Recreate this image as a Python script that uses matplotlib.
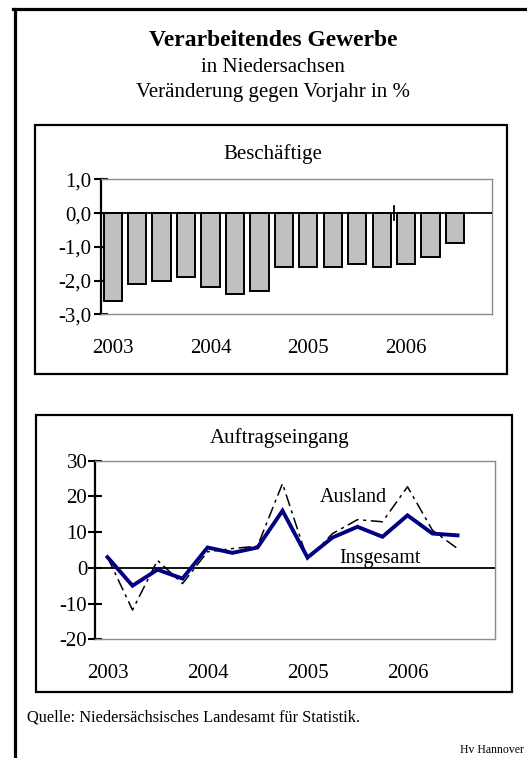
import matplotlib
matplotlib.use("Agg")
import matplotlib.pyplot as plt
from matplotlib.patches import Rectangle
from matplotlib.lines import Line2D

plt.rcParams['font.family'] = ['Liberation Serif', 'DejaVu Serif']
plt.rcParams['axes.unicode_minus'] = False

# data: quarters 2003 Q1 .. 2006 Q4 (last quarter still empty)
years = ['2003', '2004', '2005', '2006']
n_quarters = 16
beschaeftigte = [-2.6, -2.1, -2.0, -1.9, -2.2, -2.4, -2.3, -1.6,
                 -1.6, -1.6, -1.5, -1.6, -1.5, -1.3, -0.9]
insgesamt = [3.0, -5.0, -0.5, -3.0, 5.7, 4.2, 5.7, 16.0,
             2.9, 8.5, 11.5, 8.7, 14.7, 9.6, 9.1]
ausland = [3.0, -11.8, 2.1, -4.4, 4.5, 5.4, 6.1, 23.6,
           2.3, 9.6, 13.5, 12.9, 22.7, 10.5, 5.4]

W, H = 527, 758
fig = plt.figure(figsize=(W / 100, H / 100), dpi=100)


def fx(px):
    return px / W


def fy(py):
    return 1 - py / H


def axes_px(x0, y0, x1, y1):
    return fig.add_axes([fx(x0), fy(y1), fx(x1) - fx(x0), fy(y0) - fy(y1)])


def box_px(x0, y0, x1, y1, lw=1.6):
    fig.add_artist(Rectangle((fx(x0), fy(y1)), fx(x1) - fx(x0), fy(y0) - fy(y1),
                             transform=fig.transFigure, fill=False,
                             edgecolor='black', linewidth=lw))


def style_axes(ax):
    for side in ['top', 'right', 'bottom']:
        ax.spines[side].set_color('#8c8c8c')
        ax.spines[side].set_linewidth(1.0)
    ax.spines['left'].set_color('black')
    ax.spines['left'].set_linewidth(1.6)
    ax.tick_params(axis='y', direction='inout', length=10, width=1.5,
                   labelsize=15, pad=1.5)
    ax.tick_params(axis='x', length=0, labelsize=15, pad=18)
    ax.set_xlim(-0.5, n_quarters - 0.5)
    ax.set_xticks(range(0, n_quarters, 4))
    ax.set_xticklabels(years)
    ax.axhline(0, color='black', linewidth=1.3, zorder=3)


# outer frame (left and top only)
fig.add_artist(Line2D([fx(14.5), fx(14.5)], [fy(8.5), fy(H + 5)],
                      transform=fig.transFigure, color='black', linewidth=2.3))
fig.add_artist(Line2D([fx(13), fx(W + 5)], [fy(8.5), fy(8.5)],
                      transform=fig.transFigure, color='black', linewidth=2.3))

# headings
fig.text(fx(273), fy(46), 'Verarbeitendes Gewerbe', ha='center',
         va='baseline', fontsize=17, fontweight='bold')
fig.text(fx(273), fy(72), 'in Niedersachsen', ha='center', va='baseline',
         fontsize=15)
fig.text(fx(273), fy(97), 'Veränderung gegen Vorjahr in %', ha='center',
         va='baseline', fontsize=15)

# --- top panel: Beschäftigte
box_px(35, 125, 507, 374)
fig.text(fx(273), fy(159), 'Beschäftige', ha='center', va='baseline',
         fontsize=15)
ax1 = axes_px(100.5, 179.3, 491.7, 314.3)
ax1.bar(range(len(beschaeftigte)), beschaeftigte, width=0.75,
        color='#c0c0c0', edgecolor='black', linewidth=1.4, zorder=2)
style_axes(ax1)
ax1.set_ylim(-3, 1)
ax1.set_yticks([1, 0, -1, -2, -3])
ax1.set_yticklabels([f'{v:.1f}'.replace('.', ',') for v in [1, 0, -1, -2, -3]])
# stray category tick on the zero line
ax1.plot([11.5, 11.5], [-0.2, 0.2], color='black', linewidth=1.3, zorder=4)

# --- bottom panel: Auftragseingang
box_px(36, 415, 512, 692)
fig.text(fx(280), fy(443), 'Auftragseingang', ha='center', va='baseline',
         fontsize=15)
ax2 = axes_px(95, 460.7, 495, 639.3)
ax2.plot(range(len(ausland)), ausland, color='black', linewidth=1.1,
         linestyle=(0, (8, 3, 2, 3)), zorder=4)
ax2.plot(range(len(insgesamt)), insgesamt, color='#000080', linewidth=2.8,
         solid_joinstyle='miter', zorder=5)
style_axes(ax2)
ax2.tick_params(axis='y', pad=0.5)
ax2.set_ylim(-20, 30)
ax2.set_yticks([30, 20, 10, 0, -10, -20])
fig.text(fx(353), fy(501.7), 'Ausland', ha='center', va='baseline',
         fontsize=14.5)
fig.text(fx(379.5), fy(562.7), 'Insgesamt', ha='center', va='baseline',
         fontsize=14.5)

# footer
fig.text(fx(26.7), fy(721), 'Quelle: Niedersächsisches Landesamt für Statistik.',
         ha='left', va='baseline', fontsize=11.8)
fig.text(fx(524), fy(753), 'Hv Hannover', ha='right', va='baseline',
         fontsize=8.5)

fig.savefig('out.png', dpi=100)
